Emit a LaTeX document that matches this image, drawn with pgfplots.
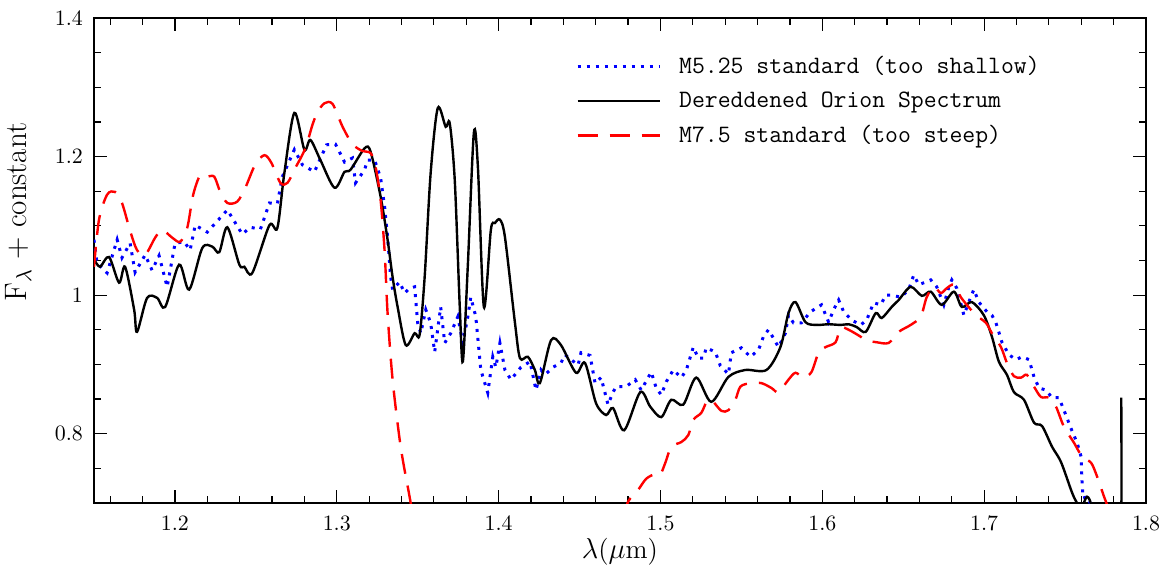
\documentclass[border=0pt]{standalone}
\usepackage{pgfplots}
\pgfplotsset{compat=1.18}
\begin{document}
\begin{tikzpicture}
\begin{axis}[
  scale only axis,
  width=526pt, height=242.5pt,
  xmin=1.15, xmax=1.8, ymin=0.7, ymax=1.4,
  xtick={1.2,1.3,1.4,1.5,1.6,1.7,1.8},
  minor xtick={1.16,1.18,1.22,1.24,1.26,1.28,1.32,1.34,1.36,1.38,1.42,1.44,1.46,1.48,1.52,1.54,1.56,1.58,1.62,1.64,1.66,1.68,1.72,1.74,1.76,1.78},
  ytick={0.8,1.0,1.2,1.4},
  minor ytick={0.75,0.85,0.9,0.95,1.05,1.1,1.15,1.25,1.3,1.35},
  tick align=inside,
  major tick length=6.5pt, minor tick length=3.5pt,
  every tick/.style={black, line width=0.6pt},
  axis line style={line width=0.8pt},
  ticklabel style={font=\fontsize{11}{13}\selectfont},
  xticklabel style={yshift=-3pt},
  yticklabel style={xshift=-2pt},
  xlabel={$\lambda$($\mu$m)},
  ylabel={F$_\lambda$ + constant},
  xlabel style={at={(axis description cs:0.5,-0.1)}, anchor=center, font=\fontsize{13.5}{15}\selectfont},
  ylabel style={at={(axis description cs:-0.072,0.6)}, anchor=center, rotate=0, font=\fontsize{15.5}{17}\selectfont},
  legend style={draw=none, fill=none, at={(axis description cs:0.458,0.93)}, anchor=north west,
    font=\ttfamily\fontsize{12.5}{14}\selectfont, row sep=3.5pt, column sep=7pt, inner sep=0pt},
  legend cell align=left,
  legend image code/.code={\draw[#1] (0pt,0pt) -- (41pt,0pt);},
]
% M5.25 standard
\addplot[blue, line width=1.5pt, dash pattern=on 1.5pt off 3pt] coordinates {
(1.150,1.080)(1.1519,1.046)(1.1581,1.032)(1.1643,1.080)(1.1673,1.054)(1.1723,1.075)(1.1754,1.033)
(1.1816,1.058)(1.1859,1.036)(1.1902,1.057)(1.1952,1.012)(1.2001,1.075)(1.2057,1.077)(1.2094,1.065)
(1.2125,1.101)(1.2200,1.091)(1.2324,1.123)(1.2416,1.088)(1.2466,1.098)(1.2528,1.095)(1.2584,1.133)
(1.2633,1.132)(1.2664,1.171)(1.2738,1.210)(1.2788,1.188)(1.2862,1.178)(1.2937,1.217)(1.2992,1.218)
(1.3048,1.192)(1.3097,1.198)(1.3116,1.162)(1.3172,1.181)(1.3190,1.195)(1.3234,1.195)(1.3271,1.169)
(1.3296,1.127)(1.3314,1.084)(1.3333,1.026)(1.3345,1.008)(1.3388,1.019)(1.3419,1.003)(1.3450,1.010)
(1.3481,1.012)(1.3500,0.960)(1.3519,0.945)(1.3550,0.979)(1.3580,0.960)(1.3605,0.918)(1.3642,0.983)
(1.3667,0.931)(1.3704,0.945)(1.3748,0.969)(1.3779,0.931)(1.3810,0.969)(1.3828,0.997)(1.3859,0.969)
(1.3890,0.892)(1.3933,0.859)(1.3964,0.911)(1.3983,0.896)(1.4008,0.931)(1.4039,0.892)(1.4076,0.878)
(1.4138,0.896)(1.4194,0.904)(1.4231,0.863)(1.4262,0.892)(1.4286,0.885)(1.4336,0.896)(1.4385,0.902)
(1.4410,0.914)(1.4491,0.899)(1.4509,0.917)(1.4565,0.913)(1.4596,0.873)(1.4633,0.881)(1.4676,0.842)
(1.4707,0.860)(1.4726,0.868)(1.4788,0.868)(1.4844,0.878)(1.4881,0.863)(1.4943,0.889)(1.4974,0.866)
(1.5005,0.856)(1.5036,0.875)(1.5079,0.892)(1.5129,0.881)(1.5160,0.892)(1.5203,0.925)(1.5234,0.909)
(1.5265,0.909)(1.5283,0.924)(1.5339,0.918)(1.5370,0.898)(1.5420,0.886)(1.5438,0.917)(1.5500,0.924)
(1.5556,0.911)(1.5606,0.921)(1.5636,0.940)(1.5667,0.950)(1.5698,0.938)(1.5729,0.925)(1.5772,0.945)
(1.5791,0.971)(1.5822,0.960)(1.5871,0.960)(1.5927,0.976)(1.5995,0.986)(1.6039,0.961)(1.6070,0.979)
(1.6101,0.993)(1.6132,0.976)(1.6181,0.964)(1.6237,0.957)(1.6274,0.964)(1.6317,0.989)(1.6361,0.986)
(1.6392,1.000)(1.6429,1.000)(1.6485,0.997)(1.6534,1.008)(1.6565,1.029)(1.6596,1.015)(1.6639,1.019)
(1.6670,1.022)(1.6707,1.012)(1.6751,0.986)(1.6782,1.012)(1.6800,1.022)(1.6831,1.010)(1.6875,0.971)
(1.6905,0.990)(1.6936,1.008)(1.6967,0.990)(1.7017,0.976)(1.7048,0.971)(1.7073,0.960)(1.7110,0.932)
(1.7153,0.914)(1.7197,0.907)(1.7234,0.911)(1.7277,0.907)(1.7308,0.882)(1.7339,0.866)(1.7382,0.863)
(1.7419,0.852)(1.7462,0.852)(1.7493,0.834)(1.7536,0.808)(1.7574,0.787)(1.7599,0.767)(1.7605,0.729)
(1.7611,0.707)(1.7636,0.709)(1.7661,0.697)(1.7700,0.680)
};
\addlegendentry{M5.25 standard (too shallow)}
% Dereddened Orion Spectrum
\addplot[black, line width=1.2pt, smooth, tension=0.5] coordinates {
(1.150,1.052)(1.1537,1.041)(1.1593,1.055)(1.1655,1.018)(1.1692,1.041)(1.1748,0.979)(1.1766,0.947)
(1.1828,0.996)(1.1890,0.996)(1.1940,0.983)(1.2026,1.044)(1.2088,1.008)(1.2169,1.068)(1.2231,1.070)
(1.2274,1.062)(1.2324,1.098)(1.2398,1.044)(1.2429,1.041)(1.2478,1.032)(1.2584,1.101)(1.2633,1.097)
(1.2676,1.176)(1.2738,1.263)(1.2800,1.210)(1.2837,1.224)(1.2899,1.195)(1.2986,1.155)(1.3048,1.178)
(1.3085,1.181)(1.3172,1.212)(1.3209,1.207)(1.3271,1.142)(1.3314,1.080)(1.3345,1.026)(1.3376,0.983)
(1.3426,0.928)(1.3481,0.945)(1.3512,0.943)(1.3543,1.026)(1.3580,1.176)(1.3624,1.270)(1.3673,1.243)
(1.3698,1.248)(1.3729,1.166)(1.3760,0.983)(1.3779,0.904)(1.3810,1.044)(1.3847,1.234)(1.3872,1.185)
(1.3909,0.983)(1.3952,1.094)(1.3977,1.104)(1.4008,1.109)(1.4039,1.084)(1.4101,0.960)(1.4132,0.909)
(1.4181,0.911)(1.4224,0.892)(1.4255,0.873)(1.4324,0.935)(1.4385,0.928)(1.4478,0.888)(1.4534,0.902)
(1.4602,0.844)(1.4664,0.827)(1.4707,0.837)(1.4776,0.805)(1.4875,0.860)(1.4937,0.839)(1.5005,0.824)
(1.5067,0.849)(1.5141,0.842)(1.5221,0.881)(1.5314,0.846)(1.5420,0.882)(1.5525,0.892)(1.5655,0.892)
(1.5741,0.925)(1.5791,0.974)(1.5834,0.990)(1.5896,0.961)(1.5964,0.957)(1.6039,0.958)(1.6113,0.957)
(1.6163,0.958)(1.6212,0.954)(1.6268,0.947)(1.6330,0.974)(1.6367,0.967)(1.6429,0.983)(1.6472,0.993)
(1.6546,1.012)(1.6615,0.999)(1.6670,1.005)(1.6738,0.986)(1.6813,1.005)(1.6862,0.983)(1.6924,0.990)
(1.6998,0.971)(1.7048,0.940)(1.7091,0.904)(1.7141,0.885)(1.7184,0.860)(1.7246,0.849)(1.7308,0.816)
(1.7358,0.811)(1.7420,0.781)(1.7475,0.759)(1.7543,0.715)(1.7574,0.700)(1.7600,0.692)(1.7636,0.709)
(1.7670,0.690)(1.7750,0.600)(1.7840,0.600)(1.7847,0.852)
};
\addlegendentry{Dereddened Orion Spectrum}
% M7.5 standard
\addplot[red, line width=1.2pt, dash pattern=on 10pt off 6pt, smooth, tension=0.5] coordinates {
(1.150,1.041)(1.1531,1.109)(1.1581,1.145)(1.1630,1.149)(1.1673,1.133)(1.1723,1.093)(1.1766,1.065)
(1.1816,1.058)(1.1878,1.083)(1.1921,1.094)(1.1983,1.083)(1.2032,1.077)(1.2076,1.097)(1.2113,1.145)
(1.2156,1.173)(1.2200,1.171)(1.2243,1.171)(1.2280,1.149)(1.2324,1.133)(1.2385,1.135)(1.2435,1.155)
(1.2497,1.189)(1.2553,1.202)(1.2596,1.191)(1.2652,1.162)(1.2695,1.162)(1.2745,1.184)(1.2806,1.212)
(1.2850,1.246)(1.2881,1.264)(1.2924,1.277)(1.2974,1.276)(1.3036,1.243)(1.3097,1.218)(1.3159,1.208)
(1.3209,1.205)(1.3240,1.185)(1.3271,1.137)(1.3296,1.062)(1.3314,0.974)(1.3345,0.878)(1.3395,0.781)
(1.3450,0.709)(1.3475,0.676)
};
\addplot[red, line width=1.2pt, dash pattern=on 10pt off 6pt, smooth, tension=0.5, forget plot] coordinates {
(1.4780,0.680)(1.4800,0.702)(1.4862,0.719)(1.4912,0.735)(1.4968,0.742)(1.4999,0.741)(1.5030,0.758)
(1.5067,0.781)(1.5129,0.788)(1.5172,0.798)(1.5203,0.820)(1.5252,0.830)(1.5283,0.845)(1.5314,0.849)
(1.5376,0.833)(1.5420,0.834)(1.5463,0.849)(1.5494,0.868)(1.5556,0.873)(1.5624,0.873)(1.5686,0.866)
(1.5729,0.860)(1.5791,0.878)(1.5834,0.888)(1.5883,0.881)(1.5933,0.889)(1.5977,0.917)(1.6020,0.925)
(1.6082,0.932)(1.6113,0.953)(1.6163,0.950)(1.6237,0.940)(1.6268,0.935)(1.6336,0.932)(1.6410,0.931)
(1.6472,0.947)(1.6546,0.957)(1.6608,0.969)(1.6645,0.997)(1.6689,1.012)(1.6732,1.003)(1.6769,1.010)
(1.6813,1.015)(1.6856,0.997)(1.6918,0.979)(1.6949,0.971)(1.7011,0.960)(1.7048,0.945)(1.7104,0.925)
(1.7141,0.902)(1.7184,0.883)(1.7228,0.881)(1.7264,0.885)(1.7308,0.868)(1.7351,0.853)(1.7401,0.852)
(1.7444,0.839)(1.7493,0.810)(1.7555,0.787)(1.7605,0.767)(1.7661,0.758)(1.7698,0.738)(1.7741,0.709)
(1.7772,0.690)
};
\addlegendentry{M7.5 standard (too steep)}
\end{axis}
\pgfresetboundingbox
\useasboundingbox ([shift={(-47pt,-32pt)}]current axis.south west) rectangle ([shift={(9pt,9pt)}]current axis.north east);
\end{tikzpicture}
\end{document}
